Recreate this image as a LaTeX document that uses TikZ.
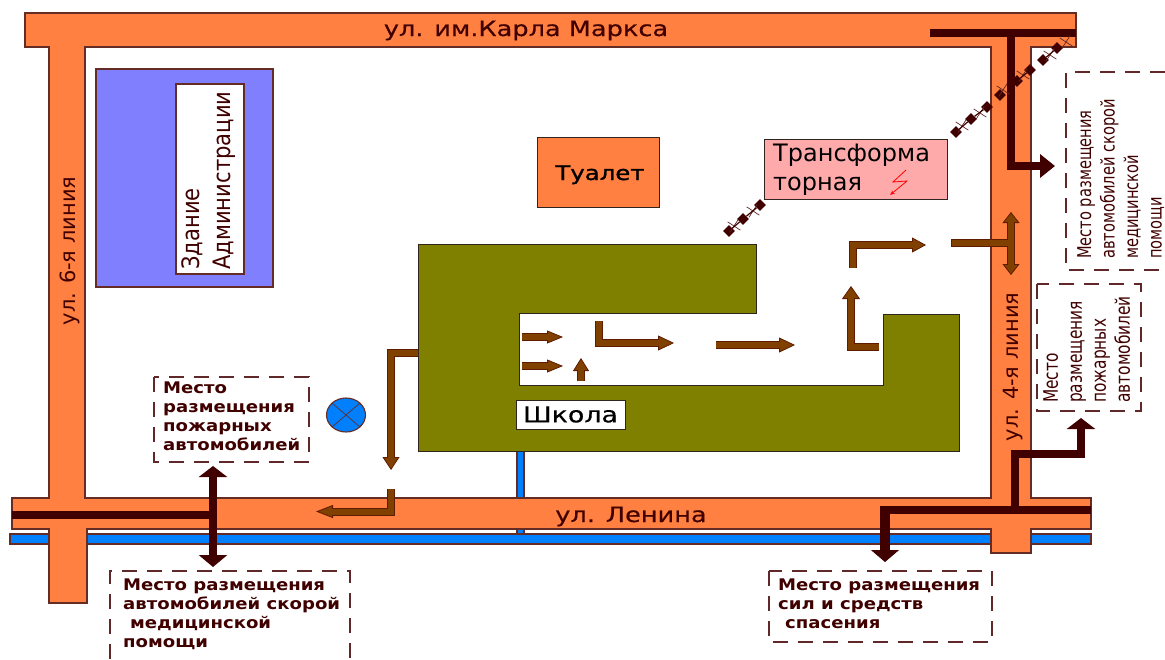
\documentclass[tikz,border=0pt]{standalone}
\usepackage{fontspec}
\setmainfont{DejaVu Sans}
\newfontfamily\wideface[FakeStretch=1.22,FakeBold=0.4]{DejaVu Sans}
\newfontfamily\heavyface[FakeStretch=1.22,FakeBold=1.2]{DejaVu Sans}
\newfontfamily\noteface[FakeStretch=1.13]{DejaVu Sans}
\newfontfamily\slimface[FakeStretch=0.77]{DejaVu Sans}
\newfontfamily\tallface[FakeStretch=0.88]{DejaVu Sans}
\usetikzlibrary{arrows.meta,shapes.geometric,shapes.misc}
\definecolor{roadOrange}{HTML}{FF8040}
\definecolor{edgeGrey}{HTML}{302420}
\definecolor{edgeBrown}{HTML}{642C24}
\definecolor{pipeBlue}{HTML}{0080FF}
\definecolor{schoolOlive}{HTML}{808000}
\definecolor{adminBlue}{HTML}{8080FF}
\definecolor{pinkBox}{HTML}{FFAAAA}
\definecolor{routeBrown}{HTML}{804000}
\definecolor{routeEdge}{HTML}{601C00}
\definecolor{accessDark}{HTML}{400000}
\definecolor{noteEdge}{HTML}{602828}
\tikzset{
	block/.style={draw=edgeGrey,line width=1pt},
	brownBlock/.style={draw=edgeBrown,line width=1.1pt},
	label/.style={inner sep=0pt,text=black,align=left},
	noteText/.style={inner sep=0pt,text=accessDark,align=left,font=\noteface\bfseries\fontsize{16}{19}\selectfont},
	noteSlim/.style={inner sep=0pt,text=accessDark,align=left},
	noteBox/.style={draw=noteEdge,line width=1.2pt,dash pattern=on 15pt off 10pt},
	accessLine/.style={draw=accessDark,line width=8pt},
	routeLine/.style={draw=routeBrown,line width=6pt},
	routeOuter/.style={draw=routeEdge,line width=8pt},
	pylon/.style={diamond,fill=accessDark,inner sep=0pt,minimum size=12pt},
	tick/.style={cross out,draw=noteEdge,line width=.7pt,inner sep=0pt,minimum size=10pt,rotate=12}
}
\newcommand{\routearrow}[3]{%
	\draw[routeOuter,-{Triangle[length=#1pt,width=#2pt,fill=routeBrown,line width=.8pt]}] #3;
	\draw[routeLine,shorten >=#1pt-1pt] #3;
}
\newcommand{\routeboth}[3]{%
	\draw[routeOuter,{Triangle[length=#1pt,width=#2pt,fill=routeBrown,line width=.8pt]}-{Triangle[length=#1pt,width=#2pt,fill=routeBrown,line width=.8pt]}] #3;
	\draw[routeLine,shorten >=#1pt-1pt,shorten <=#1pt-1pt] #3;
}
\newcommand{\accessarrow}[3]{%
	\draw[accessLine,-{Triangle[length=#1pt,width=#2pt,fill=accessDark]}] #3;
}
\begin{document}
\begin{tikzpicture}[x=1pt,y=-1pt]
		\useasboundingbox (0,0) rectangle (1165,659);
		\fill[white] (0,0) rectangle (1165,659);

		\draw[brownBlock,fill=pipeBlue] (10,534) rectangle (1091,544);
		\draw[brownBlock,fill=pipeBlue] (517,451) rectangle (524,534);
		\draw[brownBlock,fill=roadOrange,even odd rule]
		(25,13) -- (1076,13) -- (1076,47) -- (1031,47) -- (1031,498) -- (1091,498)
		-- (1091,529) -- (1031,529) -- (1031,553) -- (991,553) -- (991,529) -- (87,529)
		-- (87,603) -- (49,603) -- (49,529) -- (12,529) -- (12,498) -- (49,498)
		-- (49,47) -- (25,47) -- cycle
		(85,47) -- (991,47) -- (991,498) -- (85,498) -- cycle;

		\node[label,anchor=base,text=accessDark,font=\wideface\fontsize{21}{25}\selectfont] (streetTop) at (526,36) {ул. им.Карла Маркса};
		\node[label,anchor=base,text=accessDark,font=\wideface\fontsize{21}{25}\selectfont] (streetBottom) at (631,522) {ул. Ленина};
		\node[label,anchor=base,rotate=90,text=accessDark,font=\fontsize{21}{25}\selectfont] (streetLeft) at (75,251) {ул. 6-я линия};
		\node[label,anchor=base,rotate=90,text=accessDark,font=\fontsize{21}{25}\selectfont] (streetRight) at (1018,367) {ул. 4-я линия};

		\draw[brownBlock,fill=adminBlue] (96,69) rectangle (273,287);
		\node[brownBlock,fill=white,rotate=90,minimum width=190pt,minimum height=68pt,inner sep=0pt] (adminBox) at (210,179) {};
		\node[label,rotate=90,anchor=north west,text=accessDark,font=\tallface\fontsize{24}{31}\selectfont] (admin) at (181,270) {Здание\\Администрации};

		\node[block,fill=roadOrange,minimum width=122pt,minimum height=70pt] (toilet) at (598,172) {};
		\node[label,anchor=base,font=\heavyface\fontsize{20}{24}\selectfont] (toiletText) at (600,180) {Туалет};

		\draw[block,fill=pinkBox] (764,139) rectangle (947,199);
		\node[label,anchor=north west,font=\fontsize{24}{29}\selectfont] (transformer) at (773,144) {Трансформа\\торная};
		\draw[red,line width=.8pt,-{Stealth[length=5pt]}] (906,170) -- (893,182) -- (907,181) -- (890,195);

		\draw[block,fill=schoolOlive] (418,244) -- (756,244) -- (756,313) -- (519,313) -- (519,385)
		-- (883,385) -- (883,314) -- (959,314) -- (959,451) -- (418,451) -- cycle;
		\node[block,fill=white,minimum width=109pt,minimum height=29pt,inner sep=0pt,font=\wideface\fontsize{22}{26}\selectfont] (school) at (570.5,414.5) {Школа};

		\draw[brownBlock,fill=pipeBlue] (346,415) ellipse (19.5 and 17);
		\draw[edgeBrown,line width=.7pt] (332,403) -- (360,427) (360,403) -- (332,427);

		\routearrow{13}{17}{(418,353) -- (391,353) -- (391,470)}
		\routearrow{17}{13}{(391,489) -- (391,511.5) -- (316,511.5)}
		\routearrow{16}{13}{(522,337) -- (563,337)}
		\routearrow{16}{13}{(522,366) -- (563,366)}
		\routearrow{13}{16}{(581,381) -- (581,358)}
		\routearrow{16}{15}{(599,321) -- (599,343) -- (674,343)}
		\routearrow{16}{15}{(716,345) -- (795,345)}
		\routearrow{13}{18}{(879,347) -- (851,347) -- (851,286)}
		\routearrow{14}{15}{(853,268) -- (853,245) -- (926,245)}
		\draw[routeOuter] (951,243) -- (1011,243);
		\routeboth{11}{17}{(1011,212) -- (1011,275)}
		\draw[routeLine] (952,243) -- (1011,243);

		\draw[accessLine] (930,33) -- (1076,33);
		\accessarrow{15}{23}{(1011,33) -- (1011,166) -- (1055,166)}
		\draw[accessLine] (12,514.5) -- (213,514.5);
		\draw[accessLine,{Triangle[length=11pt,width=28pt,fill=accessDark]}-{Triangle[length=12pt,width=28pt,fill=accessDark]}] (213,466) -- (213,567);
		\draw[accessLine] (1091,510) -- (885,510);
		\draw[accessLine,line width=10pt,-{Triangle[length=12pt,width=28pt,fill=accessDark,line width=.8pt]}] (885,506) -- (885,562);
		\accessarrow{11}{28}{(1015,510) -- (1015,454) -- (1081,454) -- (1081,418)}

		\foreach \x/\y [count=\i] in {1057/48,1043/60,1030/70,1017/81,1000/95,987/107,971/119,956/132,760/205,743/219,729/231} {
				\node[pylon] (pole\i) at (\x,\y) {};
			}
		\foreach \x/\y [count=\i] in {1066/42,1050/55,1023/75,1003/90,980/113,962/126,753/211,734/226} {
				\node[tick] (mark\i) at (\x,\y) {};
			}
		\foreach \a/\b in {1/2,3/4,6/7,7/8,9/10,10/11} {
				\draw[accessDark,line width=1.2pt] (pole\a) -- (pole\b);
			}

		\draw[noteBox] (1165,72) -- (1066,72) -- (1066,270) -- (1165,270);
		\node[noteSlim,rotate=90,anchor=north west,font=\slimface\fontsize{19}{23.5}\selectfont] (noteAmbulanceRight) at (1077,259) {Место размещения\\автомобилей скорой\\медицинской\\помощи};
		\draw[noteBox] (1037,284) rectangle (1141,411);
		\node[noteSlim,rotate=90,anchor=north west,font=\slimface\fontsize{20}{24}\selectfont] (noteFireRight) at (1043,403) {Место\\размещения\\пожарных\\автомобилей};
		\draw[noteBox] (154,377) rectangle (309,462);
		\node[noteText,anchor=north west] (noteFireLeft) at (163,382) {Место\\размещения\\пожарных\\автомобилей};
		\draw[noteBox] (110,659) -- (110,571) -- (350,571) -- (350,659);
		\node[noteText,anchor=north west] (noteAmbulance) at (123,579) {Место размещения\\автомобилей скорой\\\hspace*{7pt}медицинской\\помощи};
		\draw[noteBox] (769,571) rectangle (992,642);
		\node[noteText,anchor=north west] (noteRescue) at (778,579) {Место размещения\\сил и средств\\\hspace*{7pt}спасения};
	\end{tikzpicture}
\end{document}
